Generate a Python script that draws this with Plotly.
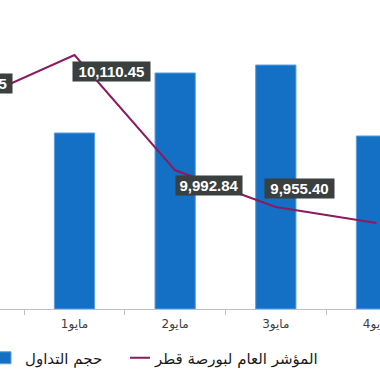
import plotly.graph_objects as go

# ---- data ----
categories = ["أبريل30", "مايو1", "مايو2", "مايو3", "مايو4"]
volume = [10.2, 8.83, 11.84, 12.24, 8.68]          # حجم التداول
index_vals = [10064.45, 10110.45, 9992.84, 9955.40, 9939.10]  # المؤشر العام
label_texts = ["10,064.45", "10,110.45", "9,992.84", "9,955.40", "9,939.10"]

# ---- styles ----
label_dx = [0, 37, 34, 24, 39]      # px offset of label centre from point
label_dy = [17, -16, -15, 18, 0]
label_w = [77, 77, 66, 69, 69]
x_range = [0.26, 4.035]
plot_w = 380
cat_px = plot_w / (x_range[1] - x_range[0])

bar_color = "#1470c4"
line_color = "#8c1a5f"
font_ar = "DejaVu Sans"

fig = go.Figure()
fig.add_trace(go.Bar(
    x=categories, y=volume, name="حجم التداول",
    marker=dict(color=bar_color, line=dict(color="#5e9ee0", width=1)),
    width=0.4, yaxis="y", legend="legend",
))
fig.add_trace(go.Scatter(
    x=categories, y=index_vals, name="المؤشر العام لبورصة قطر",
    mode="lines", line=dict(color=line_color, width=2), yaxis="y2", legend="legend2",
))

for i, (c, v, t, dx, dy, w) in enumerate(zip(categories, index_vals, label_texts,
                                              label_dx, label_dy, label_w)):
    anchor = c
    shift = dx
    if i < x_range[0]:
        # point lies left of the visible range: anchor on the next category
        anchor = categories[i + 1]
        shift = dx - cat_px
    fig.add_annotation(
        x=anchor, y=v, xref="x", yref="y2", text="<b>" + t + "</b>",
        showarrow=False, xshift=shift, yshift=dy,
        font=dict(family="Liberation Sans, Arial", size=15, color="white"),
        bgcolor="#3a3f3f", borderpad=0, width=w, height=19,
    )

fig.update_layout(
    width=380, height=372,
    margin=dict(l=0, r=0, t=10, b=63),
    paper_bgcolor="white", plot_bgcolor="white",
    showlegend=True,
    xaxis=dict(
        type="category", categoryorder="array", categoryarray=categories,
        range=x_range, tickson="boundaries", ticks="outside", ticklen=5,
        tickcolor="#bfbfbf", showline=True, linecolor="#bfbfbf", linewidth=1,
        showgrid=False, zeroline=False, automargin=False, ticklabelstandoff=4,
        tickfont=dict(family=font_ar, size=12, color="#404040"),
    ),
    yaxis=dict(range=[0, 15], visible=False, showgrid=False),
    yaxis2=dict(range=[9851.3, 10156.4], overlaying="y", visible=False, showgrid=False),
    legend=dict(
        orientation="h", xref="container", yref="container",
        x=0, xanchor="left", y=(372 - 358) / 372, yanchor="middle",
        font=dict(family=font_ar, size=15, color="#1a1a1a"),
        indentation=-15, bgcolor="rgba(0,0,0,0)",
    ),
    legend2=dict(
        orientation="h", xref="container", yref="container",
        x=130 / 380, xanchor="left", y=(372 - 358) / 372, yanchor="middle",
        font=dict(family=font_ar, size=15, color="#1a1a1a"),
        indentation=-15, bgcolor="rgba(0,0,0,0)",
    ),
)

fig.write_html("out.html")
